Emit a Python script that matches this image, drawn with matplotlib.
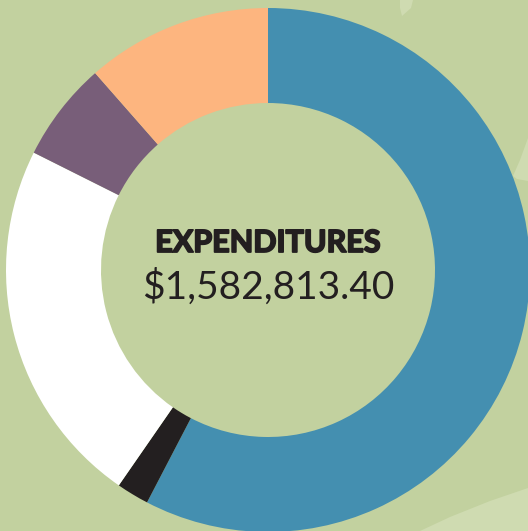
import matplotlib
matplotlib.use("Agg")
import matplotlib.pyplot as plt
import matplotlib.patheffects as pe
from matplotlib.patches import Polygon

# expenditure breakdown, clockwise from 12 o'clock
categories = ["Category A", "Category B", "Category C", "Category D", "Category E"]
amounts = [912300, 31700, 360100, 97200, 181500]
colors = ["#448fb0", "#231f20", "#ffffff", "#785e79", "#fdb57f"]
title = "EXPENDITURES"
total_label = "$1,582,813.40"

bg = "#c2d19f"
light = "#cfdbb1"

W, H = 528, 531
fig = plt.figure(figsize=(W / 100, H / 100), dpi=100)
fig.patch.set_facecolor(bg)
ax = fig.add_axes([0, 0, 1, 1])
ax.set_xlim(0, W)
ax.set_ylim(0, H)
ax.set_aspect("equal")
ax.axis("off")

# faint background shapes
ax.add_patch(Polygon([(400, H), (413, H), (411, H - 8), (402, H - 16), (400, H - 8)],
                     closed=True, color=light, lw=0, zorder=0))
ax.add_patch(Polygon([(513, H - 176), (520, H - 160), (528, H - 138), (528, H - 181), (517, H - 179)],
                     closed=True, color=light, lw=0, zorder=0))
ax.add_patch(Polygon([(420, 0), (450, 14), (490, 30), (528, 43), (528, 0)],
                     closed=True, color=light, lw=0, zorder=0))

cx, cy = 268, H - 270
r_out, r_in = 262, 167
ax.pie(amounts, colors=colors, startangle=90, counterclock=False,
       center=(cx, cy), radius=r_out, frame=True,
       wedgeprops=dict(width=r_out - r_in, linewidth=0))
ax.set_xlim(0, W)
ax.set_ylim(0, H)
ax.axis("off")

ax.text(cx, H - 243, title, ha="center", va="center", fontsize=22,
        family="Lato", fontweight="bold", color="#231f20",
        path_effects=[pe.withStroke(linewidth=1.3, foreground="#231f20")])
ax.text(cx, H - 287, total_label, ha="center", va="center", fontsize=28,
        family="Lato", fontweight="normal", color="#231f20")

fig.savefig("out.png", dpi=100, facecolor=bg)
